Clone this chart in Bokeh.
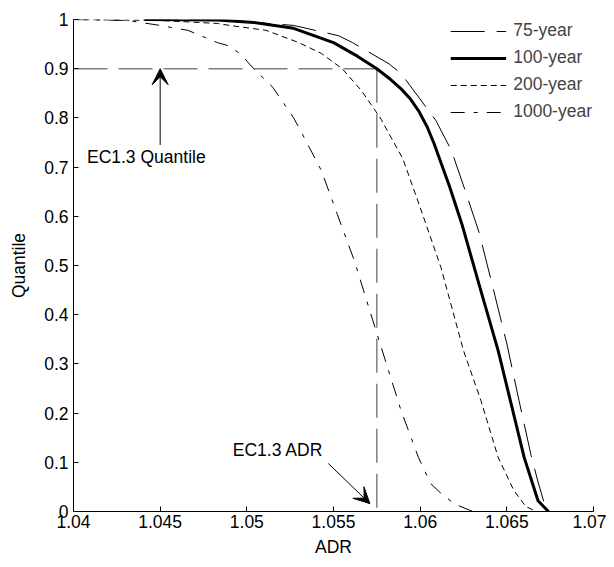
from bokeh.plotting import figure
from bokeh.models import FixedTicker, Legend, LegendItem, Arrow, VeeHead, Label
from bokeh.embed import file_html
from bokeh.resources import INLINE

# ---- data ----
x_ticks = [1.04, 1.045, 1.05, 1.055, 1.06, 1.065, 1.07]
x_tick_labels = ["1.04", "1.045", "1.05", "1.055", "1.06", "1.065", "1.07"]
y_ticks = [0, 0.1, 0.2, 0.3, 0.4, 0.5, 0.6, 0.7, 0.8, 0.9, 1.0]
y_tick_labels = ["0", "0.1", "0.2", "0.3", "0.4", "0.5", "0.6", "0.7", "0.8", "0.9", "1"]

adr_75 = [1.0441, 1.0490, 1.0527, 1.0553, 1.0561, 1.0582, 1.0589, 1.0604, 1.0609,
          1.0618, 1.0626, 1.0634, 1.0642, 1.0650, 1.0657, 1.0664, 1.0668, 1.0673]
q_75 = [1.000, 0.998, 0.988, 0.967, 0.953, 0.910, 0.890, 0.819, 0.795,
        0.734, 0.652, 0.567, 0.455, 0.341, 0.226, 0.114, 0.060, 0.000]

adr_100 = [1.0441, 1.0483, 1.0504, 1.0527, 1.0550, 1.0564, 1.0575, 1.0583, 1.0589,
           1.0594, 1.0599, 1.0604, 1.0608, 1.0617, 1.0624, 1.0635, 1.0645, 1.0652,
           1.0660, 1.0668, 1.0674]
q_100 = [1.000, 0.999, 0.994, 0.982, 0.953, 0.925, 0.900, 0.878, 0.859,
         0.840, 0.815, 0.782, 0.748, 0.660, 0.585, 0.449, 0.327, 0.226,
         0.110, 0.022, 0.000]

adr_200 = [1.0400, 1.0450, 1.0483, 1.0490, 1.0511, 1.0530, 1.0543, 1.0555, 1.0566, 1.0577,
           1.0590, 1.0600, 1.0612, 1.0625, 1.0635, 1.0645, 1.0654, 1.0661, 1.0667]
q_200 = [1.000, 0.998, 0.992, 0.988, 0.978, 0.953, 0.931, 0.900, 0.856, 0.800,
         0.717, 0.618, 0.496, 0.327, 0.226, 0.110, 0.043, 0.010, 0.000]

adr_1000 = [1.0400, 1.0431, 1.0450, 1.0456, 1.0466, 1.0483, 1.0489, 1.0496, 1.0504,
            1.0515, 1.0527, 1.0531, 1.0543, 1.0552, 1.0562, 1.0575, 1.0589, 1.0599,
            1.0606, 1.0612, 1.0620, 1.0629, 1.0633]
q_1000 = [1.000, 0.998, 0.988, 0.984, 0.978, 0.953, 0.947, 0.931, 0.900,
          0.862, 0.800, 0.774, 0.693, 0.606, 0.510, 0.362, 0.205, 0.110,
          0.057, 0.037, 0.015, 0.002, 0.000]

ec_adr = 1.0575
ec_quantile = 0.9

FONT = "Liberation Sans"
FS = "17.5px"

p = figure(frame_width=520, frame_height=492, output_backend="svg", toolbar_location=None,
           x_range=(1.04, 1.07), y_range=(0, 1),
           min_border_left=73, min_border_right=13, min_border_top=19, min_border_bottom=48)
p.outline_line_color = None
p.xgrid.visible = False
p.ygrid.visible = False
p.background_fill_color = "white"
p.border_fill_color = "white"

for ax in (p.xaxis[0], p.yaxis[0]):
    ax.major_tick_in = 5
    ax.major_tick_out = 0
    ax.minor_tick_line_color = None
    ax.axis_line_color = "black"
    ax.major_tick_line_color = "black"
    ax.major_label_text_font = FONT
    ax.major_label_text_font_size = FS
    ax.major_label_text_color = "black"
    ax.axis_label_text_font = FONT
    ax.axis_label_text_font_size = FS
    ax.axis_label_text_font_style = "normal"
    ax.axis_label_text_color = "black"

p.xaxis.ticker = FixedTicker(ticks=x_ticks)
p.xaxis.major_label_overrides = dict(zip(x_ticks, x_tick_labels))
p.yaxis.ticker = FixedTicker(ticks=y_ticks)
p.yaxis.major_label_overrides = dict(zip(y_ticks, y_tick_labels))
p.xaxis.axis_label = "ADR"
p.yaxis.axis_label = "Quantile"
p.xaxis.major_label_standoff = 3
p.yaxis.major_label_standoff = 5
p.xaxis.axis_label_standoff = 6
p.yaxis.axis_label_standoff = 12

# reference lines
grey = "#7f7f7f"
p.line([x_ticks[0], ec_adr], [ec_quantile, ec_quantile], line_color=grey, line_width=1.5, line_dash="34 11")
p.line([ec_adr, ec_adr], [ec_quantile, 0], line_color=grey, line_width=1.5, line_dash="34 11")

r75 = p.line(adr_75, q_75, line_color="black", line_width=1, line_dash="34 12")
r100 = p.line(adr_100, q_100, line_color="black", line_width=3)
r200 = p.line(adr_200, q_200, line_color="black", line_width=1, line_dash="6 4")
r1000 = p.line(adr_1000, q_1000, line_color="black", line_width=1, line_dash="14 9 4 9")

legend = Legend(items=[LegendItem(label="75-year", renderers=[r75]),
                       LegendItem(label="100-year", renderers=[r100]),
                       LegendItem(label="200-year", renderers=[r200]),
                       LegendItem(label="1000-year", renderers=[r1000])],
                location="top_right", border_line_color=None, background_fill_alpha=0,
                label_text_font=FONT, label_text_font_size=FS, glyph_width=56,
                label_standoff=7, spacing=6, padding=0, margin=1, label_height=20, glyph_height=20)
p.add_layout(legend)

# annotations
p.add_layout(Arrow(end=VeeHead(size=16, fill_color="black", line_color="black"),
                   x_start=1.045, y_start=0.745, x_end=1.045, y_end=0.9,
                   line_color="black", line_width=1))
p.add_layout(Arrow(end=VeeHead(size=16, fill_color="black", line_color="black"),
                   x_start=1.0547, y_start=0.0976, x_end=1.0571, y_end=0.016,
                   line_color="black", line_width=1))
p.add_layout(Label(x=1.0442, y=0.72, text="EC1.3 Quantile", text_align="center",
                   text_baseline="middle", text_font=FONT, text_font_size=FS, text_color="black"))
p.add_layout(Label(x=1.0518, y=0.124, text="EC1.3 ADR", text_align="center",
                   text_baseline="middle", text_font=FONT, text_font_size=FS, text_color="black"))

open("out.html", "w").write(file_html(p, INLINE))
